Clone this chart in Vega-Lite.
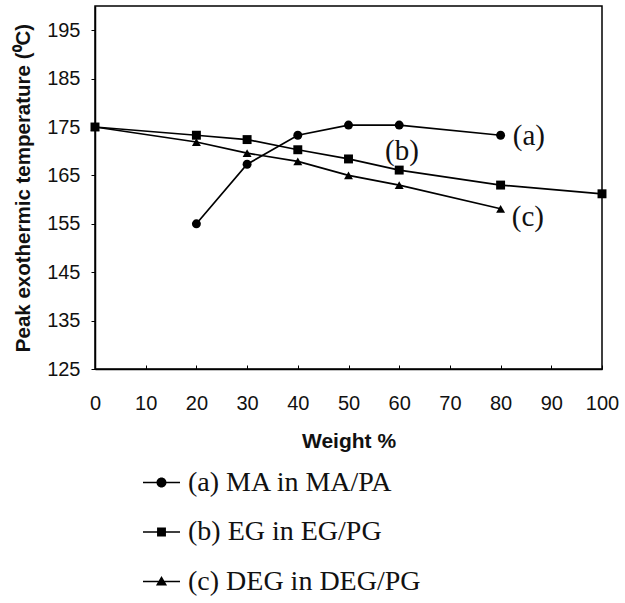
{
  "$schema": "https://vega.github.io/schema/vega-lite/v6.json",
  "width": 507,
  "height": 363,
  "autosize": "none",
  "padding": {"left": 95, "top": 6, "right": 23, "bottom": 234},
  "background": "white",
  "config": {
    "view": {"stroke": "black", "strokeWidth": 1.5},
    "axis": {"grid": false, "domainColor": "black", "tickColor": "black", "labelColor": "#111", "titleColor": "#111", "labelFont": "Liberation Sans", "titleFont": "Liberation Sans"}
  },
  "resolve": {"scale": {"shape": "independent"}, "legend": {"shape": "independent"}},
  "datasets": {
    "points": [
      {"series": "(a) MA in MA/PA", "weight": 20, "temp": 155},
      {"series": "(a) MA in MA/PA", "weight": 30, "temp": 167.3},
      {"series": "(a) MA in MA/PA", "weight": 40, "temp": 173.3},
      {"series": "(a) MA in MA/PA", "weight": 50, "temp": 175.4},
      {"series": "(a) MA in MA/PA", "weight": 60, "temp": 175.4},
      {"series": "(a) MA in MA/PA", "weight": 80, "temp": 173.3},
      {"series": "(b) EG in EG/PG", "weight": 0, "temp": 175},
      {"series": "(b) EG in EG/PG", "weight": 20, "temp": 173.3},
      {"series": "(b) EG in EG/PG", "weight": 30, "temp": 172.4},
      {"series": "(b) EG in EG/PG", "weight": 40, "temp": 170.3},
      {"series": "(b) EG in EG/PG", "weight": 50, "temp": 168.4},
      {"series": "(b) EG in EG/PG", "weight": 60, "temp": 166.1},
      {"series": "(b) EG in EG/PG", "weight": 80, "temp": 163},
      {"series": "(b) EG in EG/PG", "weight": 100, "temp": 161.2},
      {"series": "(c) DEG in DEG/PG", "weight": 0, "temp": 175},
      {"series": "(c) DEG in DEG/PG", "weight": 20, "temp": 171.9},
      {"series": "(c) DEG in DEG/PG", "weight": 30, "temp": 169.6},
      {"series": "(c) DEG in DEG/PG", "weight": 40, "temp": 167.9},
      {"series": "(c) DEG in DEG/PG", "weight": 50, "temp": 165},
      {"series": "(c) DEG in DEG/PG", "weight": 60, "temp": 163},
      {"series": "(c) DEG in DEG/PG", "weight": 80, "temp": 158.1}
    ],
    "labels": [
      {"text": "(a)", "weight": 82.4, "temp": 173.2},
      {"text": "(b)", "weight": 57.2, "temp": 170},
      {"text": "(c)", "weight": 82.2, "temp": 156.4}
    ]
  },
  "layer": [
    {
      "data": {"name": "points"},
      "mark": {"type": "line", "color": "black", "strokeWidth": 1.7},
      "encoding": {
        "x": {"field": "weight", "type": "quantitative", "scale": {"domain": [0, 100], "nice": false},
          "axis": {"values": [0,10,20,30,40,50,60,70,80,90,100], "title": "Weight %", "labelFontSize": 20, "titleFontSize": 21, "titleFontWeight": "bold", "tickSize": -4, "labelPadding": 28, "titlePadding": 17, "domainWidth": 1.5, "labelFlush": false}},
        "y": {"field": "temp", "type": "quantitative", "scale": {"domain": [125, 200], "nice": false},
          "axis": {"values": [125,135,145,155,165,175,185,195], "title": "Peak exothermic temperature (⁰C)", "labelFontSize": 20, "titleFontSize": 20.5, "titleFontWeight": "bold", "tickSize": 4, "labelPadding": 11, "titlePadding": 13, "domainWidth": 1.5}},
        "detail": {"field": "series"}
      }
    },
    {
      "data": {"name": "points"},
      "mark": {"type": "point", "filled": true, "color": "black", "opacity": 1, "size": 80},
      "encoding": {
        "x": {"field": "weight", "type": "quantitative"},
        "y": {"field": "temp", "type": "quantitative"},
        "shape": {"field": "series", "type": "nominal",
          "scale": {"domain": ["(a) MA in MA/PA", "(b) EG in EG/PG", "(c) DEG in DEG/PG"], "range": ["circle", "square", "triangle-up"]},
          "legend": null
        }
      }
    },
    {
      "data": {"name": "points"},
      "mark": {"type": "point", "filled": true, "color": "black", "opacity": 0},
      "encoding": {
        "x": {"field": "weight", "type": "quantitative"},
        "y": {"field": "temp", "type": "quantitative"},
        "shape": {"field": "series", "type": "nominal",
          "scale": {"domain": ["(a) MA in MA/PA", "(b) EG in EG/PG", "(c) DEG in DEG/PG"],
            "range": [
              "M-1,-0.045H1V0.045H-1ZM-0.27,0A0.27,0.27 0 1,1 0.27,0A0.27,0.27 0 1,1 -0.27,0Z",
              "M-1,-0.045H1V0.045H-1ZM-0.24,-0.24H0.24V0.24H-0.24Z",
              "M-1,-0.045H1V0.045H-1ZM0,-0.3L0.3,0.22H-0.3Z"]},
          "legend": {
            "title": null, "orient": "none", "legendX": 48, "legendY": 458,
            "labelFont": "Liberation Serif", "labelFontSize": 28, "labelColor": "#111", "labelLimit": 500,
            "symbolSize": 1369, "symbolFillColor": "black", "symbolStrokeColor": "black", "symbolStrokeWidth": 0, "symbolOpacity": 1,
            "rowPadding": 16.5, "labelOffset": 8
          }
        }
      }
    },
    {
      "data": {"name": "labels"},
      "mark": {"type": "text", "font": "Liberation Serif", "fontSize": 29, "color": "#111", "align": "left", "baseline": "middle"},
      "encoding": {
        "x": {"field": "weight", "type": "quantitative"},
        "y": {"field": "temp", "type": "quantitative"},
        "text": {"field": "text"}
      }
    }
  ]
}
